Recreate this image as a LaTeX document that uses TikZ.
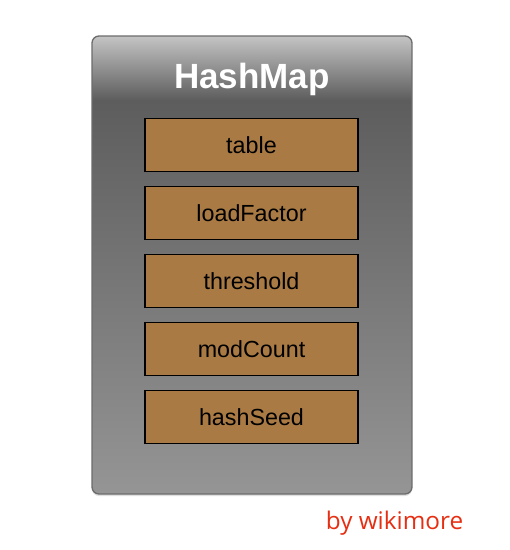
\documentclass[tikz,border=0pt]{standalone}
\usepackage{fontspec}
\setmainfont{Liberation Sans}
\newfontfamily\credfont{Open Sans}
\usetikzlibrary{shadows}
\definecolor{mapTop}{HTML}{C4C4C4}
\definecolor{mapMid}{HTML}{5D5D5D}
\definecolor{mapBot}{HTML}{959595}
\definecolor{mapLine}{HTML}{6C6C6C}
\definecolor{fieldFill}{HTML}{A97A44}
\definecolor{credRed}{HTML}{E62E12}
\pgfdeclareverticalshading{mapshade}{100bp}{color(0bp)=(mapBot); color(25bp)=(mapBot); color(68bp)=(mapMid); color(75bp)=(mapTop); color(100bp)=(mapTop)}
\tikzset{
  mapframe/.style={draw=mapLine, line width=1.3pt, rounded corners=7pt, shading=mapshade,
    minimum width=320pt, minimum height=458pt, inner sep=0pt,
    drop shadow={opacity=0.25, shadow xshift=0pt, shadow yshift=-2pt}},
  field/.style={draw=black, line width=1.6pt, fill=fieldFill, minimum width=213pt,
    minimum height=53pt, inner sep=0pt, font=\fontsize{23.3}{27}\selectfont},
  titletext/.style={text=white, font=\fontsize{35}{40}\selectfont\bfseries, inner sep=0pt},
  credit/.style={text=credRed, font=\credfont\fontsize{24.3}{28}\selectfont, inner sep=0pt}
}
\begin{document}
\begin{tikzpicture}[x=1pt, y=-1pt]
\useasboundingbox (0,0) rectangle (510,550);
\node[mapframe] (map) at (252,265) {};
\node[titletext, anchor=base] (title) at (252,88) {HashMap};
\node[field] (table) at (251.5,145) {table};
\node[field] (load) at (251.5,213) {loadFactor};
\node[field] (thr) at (251.5,281) {threshold};
\node[field] (mod) at (251.5,349) {modCount};
\node[field] (seed) at (251.5,417) {hashSeed};
\node[credit, anchor=base] (cred) at (394.5,529) {by wikimore};
\end{tikzpicture}
\end{document}
